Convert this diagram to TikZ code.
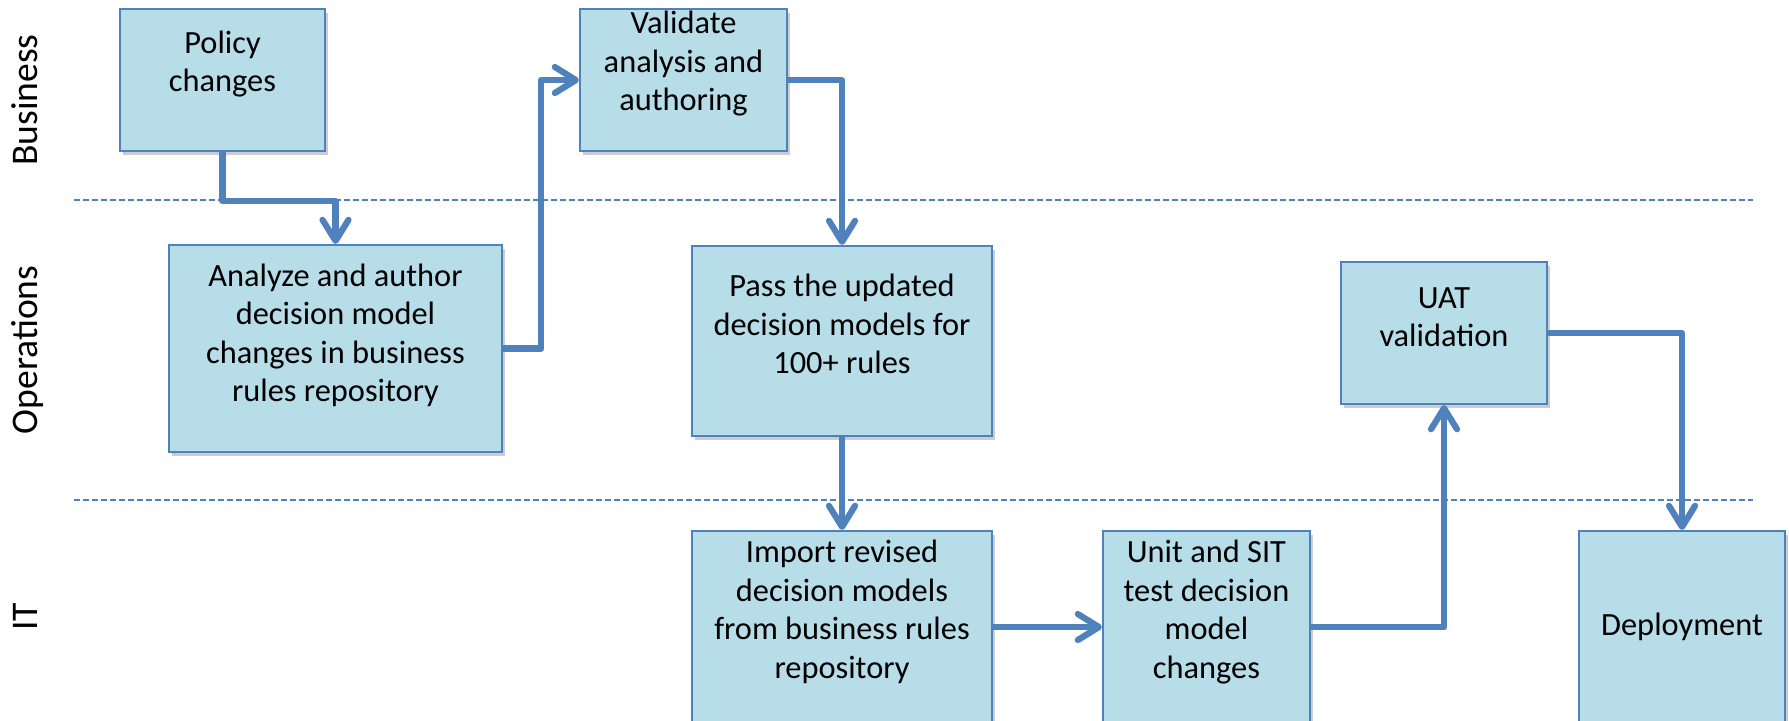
\documentclass[tikz,border=0pt]{standalone}
\usepackage{fontspec}
\setmainfont{Carlito}
\usetikzlibrary{arrows.meta,shadows}
\definecolor{boxfill}{RGB}{183,221,232}
\definecolor{boxline}{RGB}{79,129,189}
\begin{document}
\begin{tikzpicture}[x=0.5pt,y=-0.5pt,
  box/.style={draw=boxline, line width=1.1pt, fill=boxfill, inner sep=0pt,
    drop shadow={shadow xshift=1.5pt,shadow yshift=-2pt,opacity=0.4}},
  every label/.style={font=\fontsize{16.2}{19.25}\selectfont, align=center, inner sep=0pt},
  arr/.style={draw=boxline, line width=3.1pt, line join=round,
    -{Straight Barb[round,length=10.5pt,width=13pt]},
    preaction={draw=black, opacity=0.15, transform canvas={xshift=1pt,yshift=-1.2pt}}},
  lane/.style={draw=boxline, line width=0.75pt, dash pattern=on 3pt off 1.5pt},
  side/.style={rotate=90, anchor=base, inner sep=0pt, font=\fontsize{18.8}{22}\selectfont}]
\useasboundingbox (0,0) rectangle (1789,721);
\clip (0,0) rectangle (1789,721);

% swimlane separators
\coordinate (l1a) at (74,200); \coordinate (l1b) at (1753,200);
\coordinate (l2a) at (74,500); \coordinate (l2b) at (1753,500);
\draw[lane] (l1a) -- (l1b);
\draw[lane] (l2a) -- (l2b);

% lane titles
\node[side] (business) at (38,100) {Business};
\node[side] (operations) at (38,350) {Operations};
\node[side] (it) at (38,617) {IT};

% boxes
\node[box, minimum width=102.5pt, minimum height=71pt,
  label={[yshift=8pt,name=policyt]center:Policy\\changes}] (policy) at (222.5,80) {};
\node[box, minimum width=166.5pt, minimum height=103.5pt,
  label={[yshift=6.5pt,name=analyzet]center:Analyze and author\\decision model\\changes in business\\rules repository}] (analyze) at (335.5,348.5) {};
\node[box, minimum width=103.5pt, minimum height=71pt,
  label={[yshift=8pt,name=validatet]center:Validate\\analysis and\\authoring}] (validate) at (683.5,80) {};
\node[box, minimum width=150pt, minimum height=95pt,
  label={[yshift=8.5pt,name=passt]center:Pass the updated\\decision models for\\100+ rules}] (pass) at (842,341) {};
\node[box, minimum width=103pt, minimum height=71pt,
  label={[yshift=8pt,name=uatt]center:UAT\\validation}] (uat) at (1444,333) {};
\node[box, minimum width=150pt, minimum height=96pt,
  label={[yshift=7.5pt,name=importt]center:Import revised\\decision models\\from business rules\\repository}] (import) at (842,627) {};
\node[box, minimum width=103.5pt, minimum height=96pt,
  label={[yshift=7.5pt,name=unitt]center:Unit and SIT\\test decision\\model\\changes}] (unit) at (1206.5,627) {};
\node[box, minimum width=103pt, minimum height=96pt,
  label={[name=deployt]center:Deployment}] (deploy) at (1682,627) {};

% connectors
\draw[arr] (policy.south) -- ++(0,49) -| (analyze.north);
\draw[arr] (analyze.east) -- ++(38,0) |- (validate.west);
\draw[arr] (validate.east) -| (pass.north);
\draw[arr] (pass.south) -- (import.north);
\draw[arr] (import.east) -- (unit.west);
\draw[arr] (unit.east) -| (uat.south);
\draw[arr] (uat.east) -| (deploy.north);
\end{tikzpicture}
\end{document}
